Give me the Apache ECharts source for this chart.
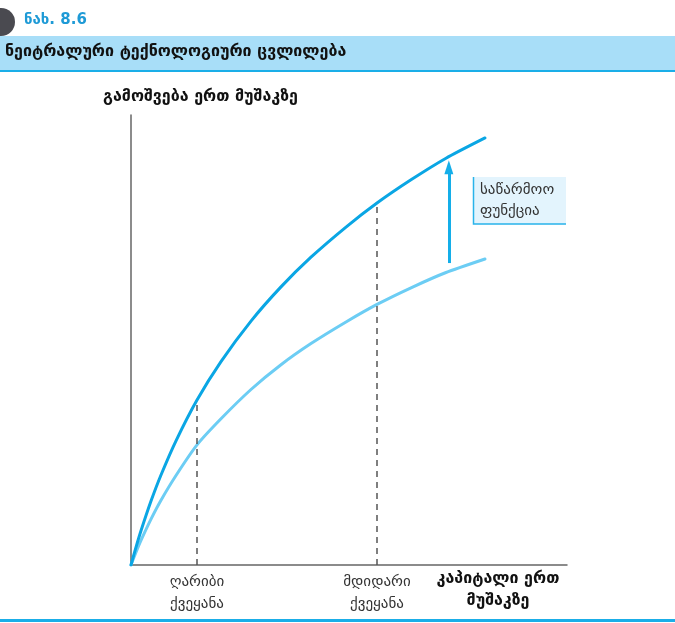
<!DOCTYPE html>
<html><head><meta charset="utf-8">
<script src="https://cdn.jsdelivr.net/npm/echarts@6/dist/echarts.min.js"></script>
<style>html,body{margin:0;padding:0;background:#fff}#c{width:675px;height:623px}</style>
</head><body><div id="c"></div>
<script>
const figureLabel = 'ნახ. 8.6';
const chartTitle = 'ნეიტრალური ტექნოლოგიური ცვლილება';
const yAxisTitle = 'გამოშვება ერთ მუშაკზე';
const xAxisTitle = 'კაპიტალი ერთ\nმუშაკზე';
const boxLabel = 'საწარმოო\nფუნქცია';
const countryLabels = ['ღარიბი\nქვეყანა', 'მდიდარი\nქვეყანა'];
const countryCapital = [15.14, 56.42];
const countryOutput = [36.67, 80.44];
// capital per worker sample points (shared by both curves)
const capitalX = [0, 1.15, 2.29, 4.59, 6.88, 10.32, 15.14, 20.64, 27.52, 34.40, 41.28, 49.31, 56.42, 64.22, 72.25, 81.19];
// new (upper) production function
const upperY = [0, 3.96, 7.6, 14.2, 20.0, 27.6, 36.67, 45.2, 54.2, 61.8, 68.4, 75.1, 80.44, 85.6, 90.4, 94.9];
// old (lower) production function
const lowerY = [0, 2.84, 5.47, 10.2, 14.4, 19.9, 26.7, 32.5, 39.0, 44.5, 49.2, 54.0, 57.9, 61.6, 65.0, 68.0];
const arrowX = 72.9, arrowFrom = 67.1, arrowTo = 88.4;

const chart = echarts.init(document.getElementById('c'), null, {renderer: 'canvas'});
const zip = (xs, ys) => xs.map((x, i) => [x, ys[i]]);
const dashStyle = {color: '#555', width: 1.5, type: [6, 5]};

chart.setOption({
  animation: false,
  grid: {left: 131, top: 115, width: 436, height: 450, containLabel: false},
  xAxis: {type: 'value', min: 0, max: 100, axisLine: {lineStyle: {color: '#666', width: 1.5}},
    axisTick: {show: false}, axisLabel: {show: false}, splitLine: {show: false}},
  yAxis: {type: 'value', min: 0, max: 100, axisLine: {show: true, lineStyle: {color: '#666', width: 1.5}},
    axisTick: {show: false}, axisLabel: {show: false}, splitLine: {show: false},
    name: yAxisTitle, nameLocation: 'end', nameGap: 10,
    nameTextStyle: {fontFamily: 'DejaVu Sans', fontWeight: 'bold', fontSize: 16, color: '#111', align: 'left', padding: [0, 0, 0, -28]}},
  series: [
    {type: 'line', data: zip(capitalX, lowerY), smooth: 0.2, symbol: 'none',
      lineStyle: {color: '#6ccdf4', width: 3, join: 'round', cap: 'round'}, z: 3},
    {type: 'line', data: zip(capitalX, upperY), smooth: 0.2, symbol: 'none',
      lineStyle: {color: '#0aa6e4', width: 3, join: 'round', cap: 'round'}, z: 4,
      markLine: {silent: true, symbol: 'none', label: {show: false},
        data: [
          [{coord: [countryCapital[0], 0], lineStyle: dashStyle}, {coord: [countryCapital[0], countryOutput[0]]}],
          [{coord: [countryCapital[1], 0], lineStyle: dashStyle}, {coord: [countryCapital[1], countryOutput[1]]}],
          [{coord: [arrowX, arrowFrom], symbol: 'none', lineStyle: {color: '#14aee9', width: 3, type: 'solid'}},
           {coord: [arrowX, arrowTo], symbol: 'triangle', symbolSize: [9, 14]}]
        ]}}
  ]
});

const g = [
  {type: 'rect', shape: {x: 0, y: 36, width: 675, height: 34}, style: {fill: '#a8def8'}},
  {type: 'rect', shape: {x: 0, y: 70, width: 675, height: 2}, style: {fill: '#1aaee8'}},
  {type: 'text', left: 5, top: 44, style: {text: chartTitle, font: 'bold 16px "DejaVu Sans"', fill: '#111'}},
  {type: 'circle', shape: {cx: 1, cy: 22, r: 14}, style: {fill: '#4a4a50'}},
  {type: 'rect', shape: {x: 20, y: 9, width: 85, height: 26}, style: {fill: '#fff'}},
  {type: 'text', left: 24, top: 13, style: {text: figureLabel, font: 'bold 15px "DejaVu Sans"', fill: '#1e9ad6'}},
  {type: 'rect', shape: {x: 0, y: 619, width: 675, height: 3}, style: {fill: '#1aaee8'}},
  {type: 'rect', shape: {x: 473, y: 177, width: 93, height: 47}, style: {fill: '#e3f4fd'}},
  {type: 'polyline', shape: {points: [[473.5, 177], [473.5, 224], [566, 224]]}, style: {stroke: '#29b3ea', lineWidth: 1.5, fill: null}},
  {type: 'text', x: 480, y: 180, style: {text: boxLabel, font: '15px "DejaVu Sans"', fill: '#333', lineHeight: 21, verticalAlign: 'top'}},
  {type: 'text', x: 498, y: 568, style: {text: xAxisTitle, font: 'bold 16px "DejaVu Sans"', fill: '#111', lineHeight: 22, align: 'center', verticalAlign: 'top'}}
];
countryLabels.forEach((t, i) => {
  const p = chart.convertToPixel({gridIndex: 0}, [countryCapital[i], 0]);
  g.push({type: 'text', x: p[0], y: p[1] + 6, style: {text: t, font: '15px "DejaVu Sans"', fill: '#333', lineHeight: 22, align: 'center', verticalAlign: 'top'}});
});
chart.setOption({graphic: g});
</script></body></html>
